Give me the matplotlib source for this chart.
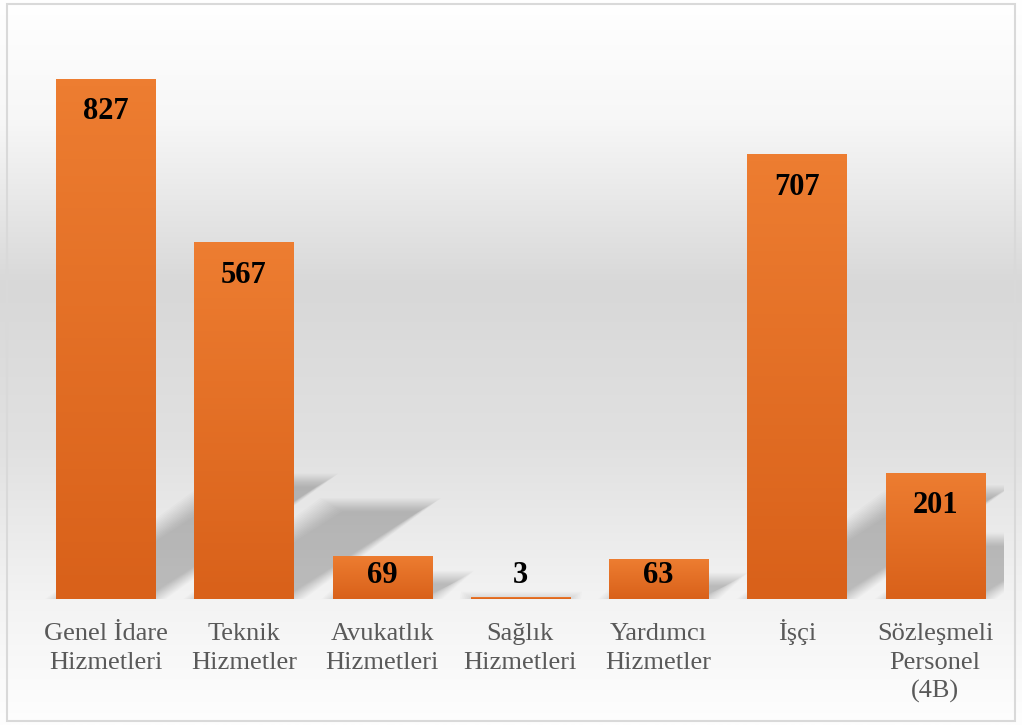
import numpy as np
import matplotlib.pyplot as plt
from matplotlib.colors import LinearSegmentedColormap
from matplotlib.patches import Polygon, Rectangle

# veriler
categories = ["Genel İdare\nHizmetleri", "Teknik\nHizmetler", "Avukatlık\nHizmetleri",
              "Sağlık\nHizmetleri", "Yardımcı\nHizmetler", "İşçi",
              "Sözleşmeli\nPersonel\n(4B)"]
values = [827, 567, 69, 3, 63, 707, 201]

W, H = 1022, 725
SERIF = "Liberation Serif"
fig = plt.figure(figsize=(W / 100, H / 100), dpi=100)

# arka plan gradyanı
bg = fig.add_axes([0, 0, 1, 1], zorder=-10)
stops = np.array([0, 120, 285, 450, 600, 725]) / H
shades = np.array([255, 247, 216, 225, 243, 254]) / 255
col = np.interp(np.linspace(0, 1, H), stops, shades)
img = np.repeat(col[:, None], 3, axis=1)[:, None, :]
bg.imshow(img, extent=[0, 1, 0, 1], aspect="auto")
bg.axis("off")

# çerçeve
fig.add_artist(Rectangle((7 / W, 4 / H), 1008 / W, 717.5 / H, transform=fig.transFigure,
                         fill=False, edgecolor="#d9d9d9", linewidth=1.5, zorder=5))

ax = fig.add_axes([36.3 / W, 1 - 599 / H, 968 / W, 566 / H])
ax.patch.set_alpha(0)

x = np.arange(len(values))
w = 0.716
bars = ax.bar(x, values, width=w, color="#E46F27", zorder=2)

# gölgeler (bulanık görünüm için katmanlı)
for i, v in zip(x, values):
    sh = min(0.15 * v + 65, 0.5 * v)
    dx = sh * 0.0066
    for e in np.linspace(-0.08, 0.08, 14):
        ey = e * 130
        pts = [(i - w / 2 - e, 0), (i + w / 2 + e, 0),
               (i + w / 2 + dx + e, sh + ey), (i - w / 2 + dx - e, sh + ey)]
        ax.add_patch(Polygon(pts, closed=True, facecolor="black", edgecolor="none",
                             alpha=0.015, zorder=1))

# çubuk gradyanı
cmap = LinearSegmentedColormap.from_list("org", ["#D9611A", "#ED7D31"])
grad = np.linspace(1, 0, 64)[:, None]
for b, i, v in zip(bars, x, values):
    im = ax.imshow(grad, extent=(i - w / 2, i + w / 2, 0, v), aspect="auto",
                   cmap=cmap, vmin=0, vmax=1, zorder=2.1)
    im.set_clip_path(b)

# değer etiketleri
for i, v in zip(x, values):
    ax.text(i, max(v - 64.5, 25.5), str(v), ha="center", va="baseline",
            fontsize=22, fontweight="bold", family=SERIF, color="black", zorder=4)

# kategori etiketleri
for i, cat in zip(x, categories):
    for k, line in enumerate(cat.split("\n")):
        ax.annotate(line, xy=(i, 0), xytext=(0, -41 - 29 * k), textcoords="offset pixels",
                    ha="center", va="baseline", fontsize=19, color="#595959",
                    family=SERIF, annotation_clip=False)

ax.set_xlim(-0.5, 6.5)
ax.set_ylim(0, 900)
ax.set_xticks([])
ax.set_yticks([])
for s in ax.spines.values():
    s.set_visible(False)

fig.savefig("out.png", dpi=100)
